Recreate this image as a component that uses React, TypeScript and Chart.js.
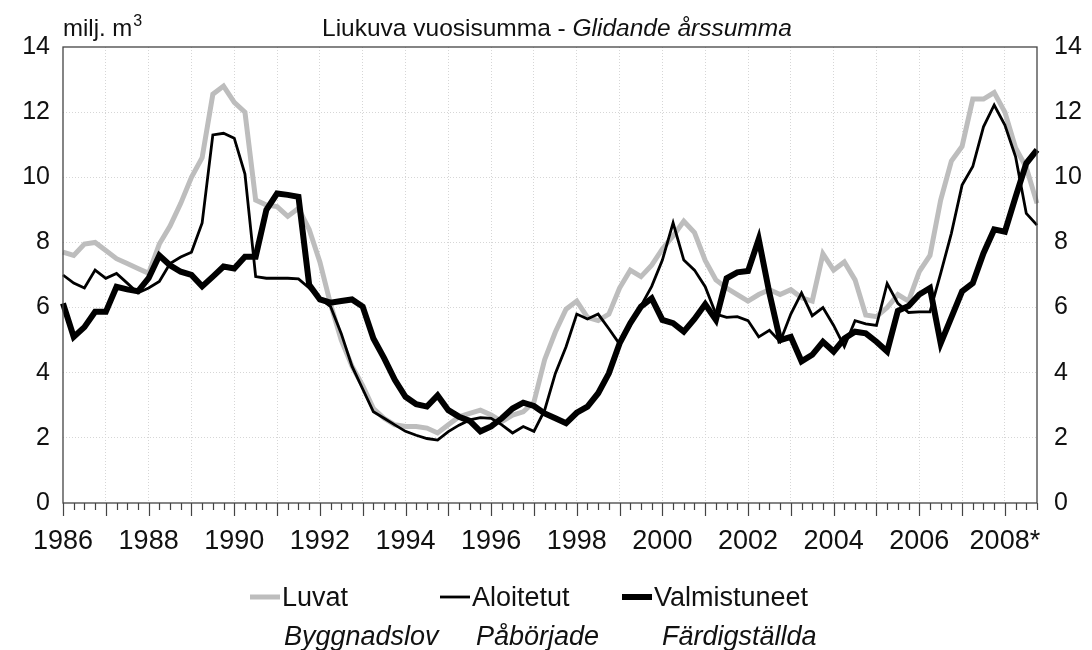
import React, { useEffect, useRef } from 'react';
import { Chart, registerables } from 'chart.js';

Chart.register(...registerables);

const FONT = '"Liberation Sans", Arial, sans-serif';

const YEARS = [1986, 1987, 1988, 1989, 1990, 1991, 1992, 1993, 1994, 1995, 1996, 1997,
  1998, 1999, 2000, 2001, 2002, 2003, 2004, 2005, 2006, 2007, 2008];
const QUARTERS = YEARS.flatMap((y) => ['Q1', 'Q2', 'Q3', 'Q4'].map((q) => `${y}${q}`));
const TICK_LABELS = ['1986', '1988', '1990', '1992', '1994', '1996', '1998', '2000', '2002', '2004', '2006', '2008*'];

const LUVAT = [
  7.7, 7.6, 7.95, 8.0, 7.75, 7.5, 7.35, 7.2,
  7.05, 7.95, 8.5, 9.2, 10.0, 10.6, 12.55, 12.8,
  12.3, 12.0, 9.3, 9.15, 9.1, 8.8, 9.05, 8.4,
  7.4, 6.1, 5.0, 4.2, 3.6, 2.9, 2.6, 2.4,
  2.35, 2.35, 2.3, 2.15, 2.4, 2.65, 2.75, 2.85,
  2.7, 2.5, 2.7, 2.8, 3.1, 4.4, 5.25, 5.95,
  6.2, 5.7, 5.6, 5.8, 6.6, 7.15, 6.95, 7.3,
  7.8, 8.2, 8.65, 8.3, 7.45, 6.85, 6.6, 6.4,
  6.2, 6.4, 6.55, 6.4, 6.55, 6.3, 6.2, 7.65,
  7.15, 7.4, 6.85, 5.77, 5.72, 6.0, 6.4, 6.2,
  7.1, 7.6, 9.3, 10.5, 10.95, 12.4, 12.4, 12.6,
  12.0, 10.9, 10.3, 9.2,
];

const ALOITETUT = [
  7.0, 6.75, 6.6, 7.15, 6.9, 7.05, 6.75, 6.45,
  6.6, 6.8, 7.35, 7.55, 7.7, 8.6, 11.3, 11.35,
  11.2, 10.1, 6.95, 6.9, 6.9, 6.9, 6.88, 6.6,
  6.28, 6.03, 5.2, 4.2, 3.5, 2.8, 2.6, 2.4,
  2.2, 2.08, 1.98, 1.93, 2.19, 2.39, 2.55, 2.62,
  2.6, 2.4, 2.15, 2.35, 2.2, 2.85, 3.98, 4.8,
  5.8, 5.65, 5.8, 5.35, 4.88, 5.45, 6.05, 6.65,
  7.46, 8.6, 7.46, 7.15, 6.64, 5.8, 5.7, 5.72,
  5.6, 5.1, 5.3, 4.95, 5.8, 6.45, 5.75, 6.0,
  5.45, 4.8, 5.6, 5.5, 5.45, 6.74, 6.13, 5.85,
  5.87, 5.87, 7.05, 8.28, 9.76, 10.33, 11.55, 12.22,
  11.6, 10.63, 8.89, 8.53,
];

const VALMISTUNEET = [
  6.13, 5.1, 5.4, 5.87, 5.87, 6.64, 6.56, 6.5,
  6.9, 7.6, 7.3, 7.1, 7.0, 6.65, 6.95, 7.26,
  7.2, 7.56, 7.56, 9.0, 9.5, 9.46, 9.4, 6.7,
  6.25, 6.15, 6.2, 6.25, 6.03, 5.05, 4.45, 3.78,
  3.26, 3.03, 2.96, 3.3, 2.85, 2.65, 2.52, 2.2,
  2.35, 2.6, 2.9, 3.08, 2.98, 2.75, 2.6, 2.45,
  2.77, 2.96, 3.37, 3.98, 4.9, 5.52, 6.03, 6.28,
  5.62, 5.52, 5.26, 5.65, 6.1, 5.62, 6.9, 7.08,
  7.12, 8.1, 6.44, 5.0, 5.1, 4.35, 4.55, 4.95,
  4.65, 5.05, 5.26, 5.21, 4.95, 4.65, 5.9, 6.05,
  6.4, 6.6, 4.9, 5.7, 6.5, 6.75, 7.67, 8.4,
  8.33, 9.4, 10.43, 10.84,
];

const GRAY = '#bdbdbd';
const GRID = '#d6d6d6';

const decorPlugin = {
  id: 'decor',
  afterDraw(chart: any) {
    const { ctx, chartArea } = chart;
    const { left, right, top, bottom } = chartArea;
    const x = chart.scales.x;
    ctx.save();
    // frame
    ctx.strokeStyle = '#444';
    ctx.lineWidth = 1.3;
    ctx.strokeRect(left, top, right - left, bottom - top);
    // tick marks
    ctx.lineWidth = 1.2;
    for (let i = 0; i < QUARTERS.length; i++) {
      const px = Math.round(x.getPixelForValue(i)) + 0.5;
      ctx.beginPath();
      ctx.moveTo(px, bottom);
      ctx.lineTo(px, bottom + (i % 4 === 0 ? 13 : 7));
      ctx.stroke();
    }
    // titles
    ctx.fillStyle = '#111';
    ctx.textBaseline = 'alphabetic';
    ctx.textAlign = 'left';
    ctx.font = `24px ${FONT}`;
    const unit = 'milj. m';
    ctx.fillText(unit, 63, 36);
    const uw = ctx.measureText(unit).width;
    ctx.font = `16px ${FONT}`;
    ctx.fillText('3', 63 + uw + 1, 26);
    ctx.font = `24.5px ${FONT}`;
    const t1 = 'Liukuva vuosisumma - ';
    ctx.fillText(t1, 322, 36);
    const tw = ctx.measureText(t1).width;
    ctx.font = `italic 24.5px ${FONT}`;
    ctx.fillText('Glidande årssumma', 322 + tw, 36);

    // legend
    const items = [
      { label: 'Luvat', sw: 'Byggnadslov', color: GRAY, width: 5, x0: 250 },
      { label: 'Aloitetut', sw: 'Påbörjade', color: '#000', width: 2.8, x0: 440 },
      { label: 'Valmistuneet', sw: 'Färdigställda', color: '#000', width: 6, x0: 622 },
    ];
    const swX = [284, 476, 662];
    items.forEach((it, k) => {
      ctx.strokeStyle = it.color;
      ctx.lineWidth = it.width;
      ctx.beginPath();
      ctx.moveTo(it.x0, 597);
      ctx.lineTo(it.x0 + 30, 597);
      ctx.stroke();
      ctx.fillStyle = '#111';
      ctx.font = `27px ${FONT}`;
      ctx.fillText(it.label, it.x0 + 32, 606);
      ctx.font = `italic 27px ${FONT}`;
      ctx.fillText(it.sw, swX[k], 645);
    });
    ctx.restore();
  },
};

export default function App() {
  const ref = useRef<HTMLCanvasElement | null>(null);

  useEffect(() => {
    if (!ref.current) return;
    const chart = new Chart(ref.current, {
      type: 'line',
      data: {
        labels: QUARTERS,
        datasets: [
          {
            label: 'Luvat',
            data: LUVAT,
            borderColor: GRAY,
            borderWidth: 5,
            pointRadius: 0,
            tension: 0,
            order: 3,
          },
          {
            label: 'Aloitetut',
            data: ALOITETUT,
            borderColor: '#000',
            borderWidth: 2.8,
            pointRadius: 0,
            tension: 0,
            order: 2,
          },
          {
            label: 'Valmistuneet',
            data: VALMISTUNEET,
            borderColor: '#000',
            borderWidth: 6,
            pointRadius: 0,
            tension: 0,
            order: 1,
          },
        ],
      },
      options: {
        responsive: false,
        animation: false,
        devicePixelRatio: 1,
        layout: { padding: { top: 47, left: 0, right: 0, bottom: 0 } },
        plugins: {
          legend: { display: false },
          tooltip: { enabled: false },
          title: { display: false },
        },
        scales: {
          x: {
            type: 'category',
            offset: false,
            grid: {
              display: true,
              drawTicks: false,
              color: (c: any) => (c.index % 4 === 0 && c.index !== 0 ? GRID : 'transparent'),
              lineWidth: 1,
            },
            border: { display: false, dash: [1, 2] },
            ticks: {
              autoSkip: false,
              maxRotation: 0,
              minRotation: 0,
              padding: 22,
              color: '#111',
              font: { family: FONT, size: 27 },
              callback: (_v: any, idx: number) => (idx % 8 === 0 ? TICK_LABELS[idx / 8] : ''),
            },
            afterFit: (s: any) => { s.height = 147; },
          },
          y: {
            position: 'left',
            min: 0,
            max: 14,
            grid: {
              drawTicks: false,
              color: (c: any) => (c.tick && (c.tick.value === 0 || c.tick.value === 14) ? 'transparent' : GRID),
              lineWidth: 1,
            },
            border: { display: false, dash: [1, 2] },
            ticks: {
              stepSize: 2,
              padding: 13,
              color: '#111',
              font: { family: FONT, size: 25 },
            },
            afterFit: (s: any) => { s.width = 63; },
          },
          y1: {
            position: 'right',
            min: 0,
            max: 14,
            grid: { display: false, drawTicks: false },
            border: { display: false },
            ticks: {
              stepSize: 2,
              padding: 17,
              color: '#111',
              font: { family: FONT, size: 25 },
            },
            afterFit: (s: any) => { s.width = 55; },
          },
        },
      },
      plugins: [decorPlugin],
    });
    return () => chart.destroy();
  }, []);

  return (
    <div style={{ position: 'fixed', left: 0, top: 0, width: 1092, height: 650, background: '#fff' }}>
      <canvas ref={ref} width={1092} height={650} style={{ width: 1092, height: 650, display: 'block' }} />
    </div>
  );
}
